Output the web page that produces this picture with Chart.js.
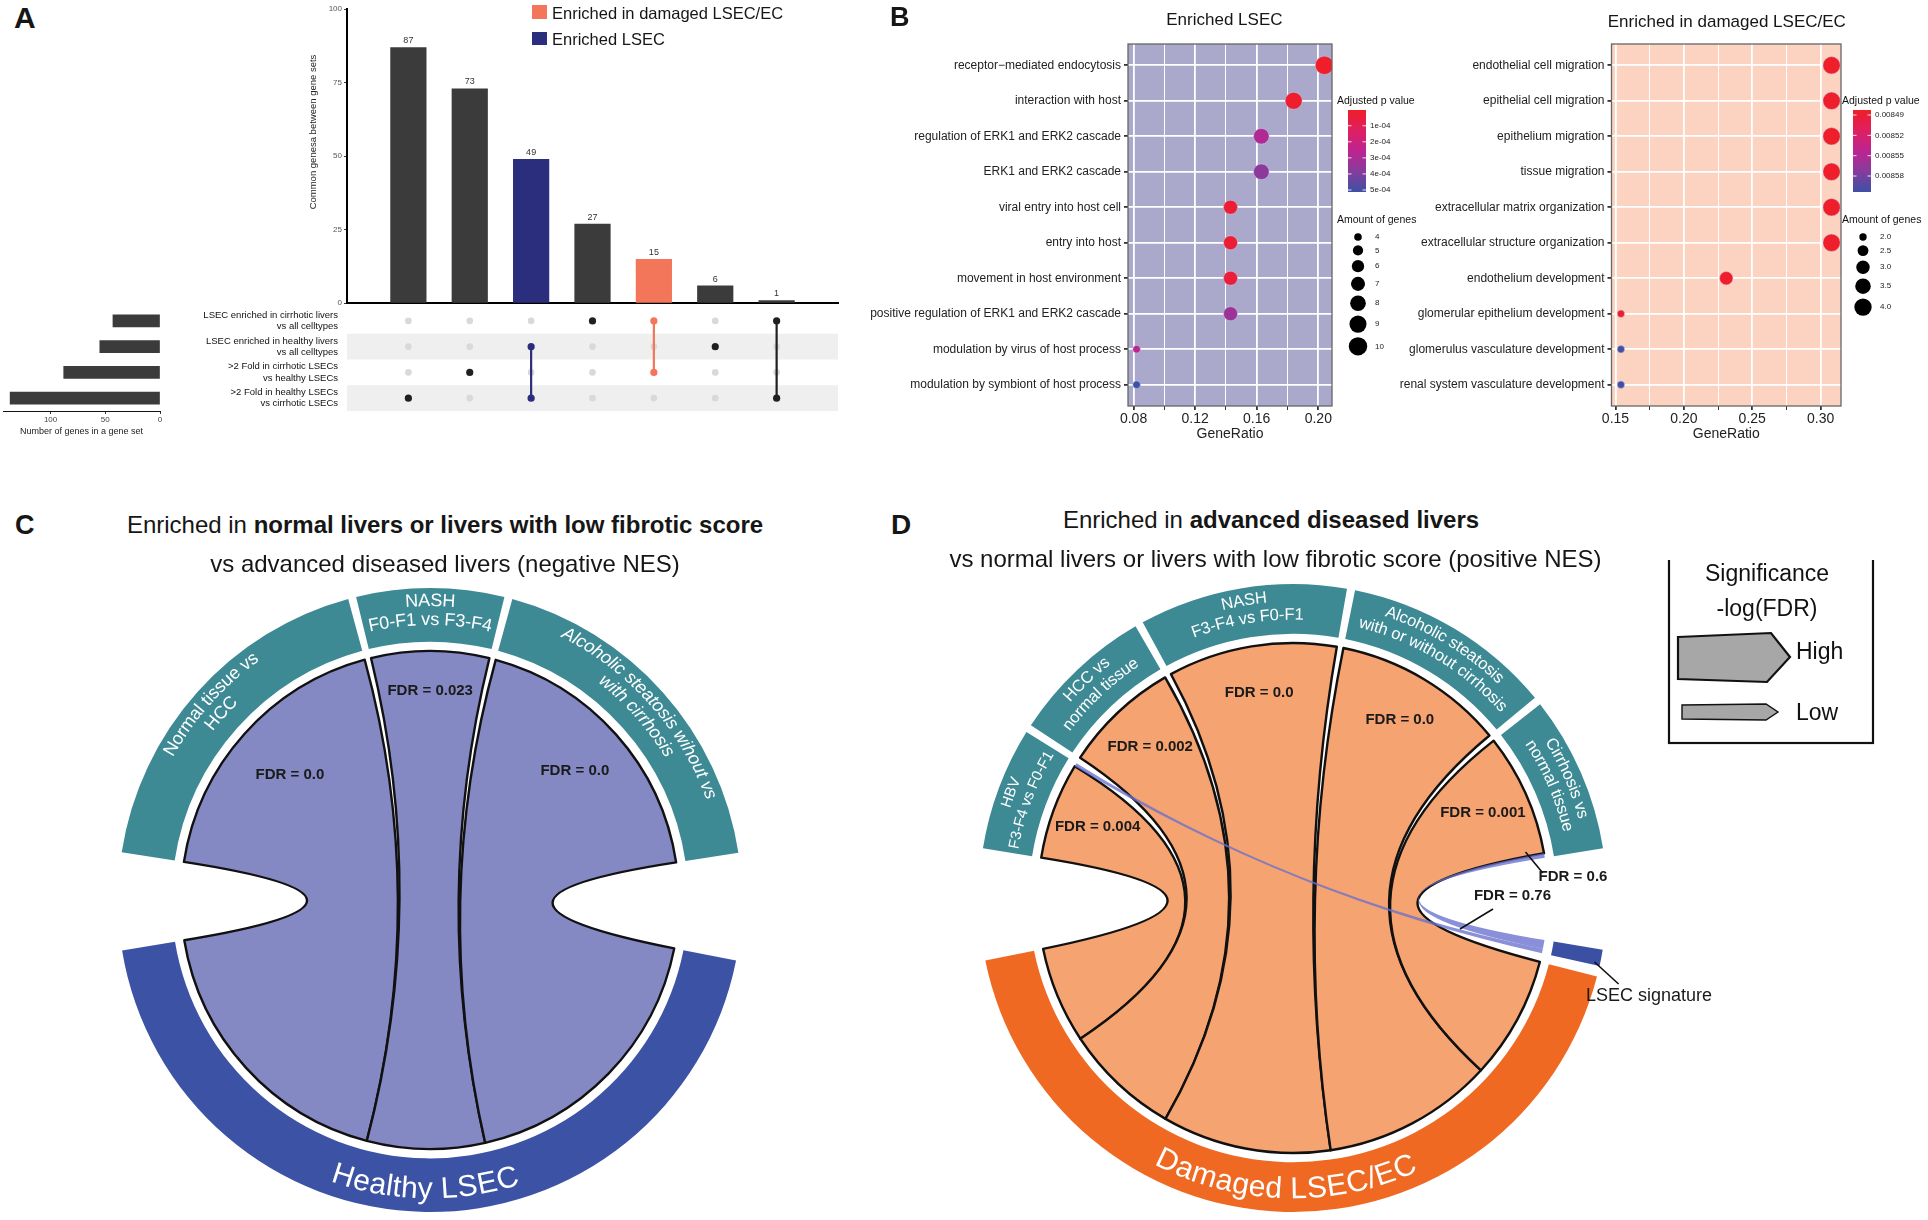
<!DOCTYPE html>
<html>
<head>
<meta charset="utf-8">
<script src="https://cdn.jsdelivr.net/npm/chart.js@4.4.1/dist/chart.umd.min.js"></script>
<style>
  body { margin: 0; background: #fff; }
  #page { position: relative; width: 1928px; height: 1220px; overflow: hidden; background: #fff;
          font-family: 'Liberation Sans', Arial, sans-serif; color: #161616; }
  #page canvas { position: absolute; }
  .txt { position: absolute; white-space: nowrap; line-height: 1; }
</style>
</head>
<body>
<div id="page"></div>
<script>
/* ---------------- data: panel A (UpSet) ---------------- */
const upsetCounts = [87, 73, 49, 27, 15, 6, 1];
const upsetMembers = [[3], [2], [1, 3], [0], [0, 2], [1], [0, 3]];
const upsetGroup = ['', '', 'lsec', '', 'damaged', '', ''];
const setNames = [
  ['LSEC enriched in cirrhotic livers', 'vs all celltypes'],
  ['LSEC enriched in healthy livers', 'vs all celltypes'],
  ['>2 Fold in cirrhotic LSECs', 'vs healthy LSECs'],
  ['>2 Fold in healthy LSECs', 'vs cirrhotic LSECs']
];
const setSizes = [43, 55, 88, 137];
const upsetTicks = [0, 25, 50, 75, 100];
const setSizeTicks = [0, 50, 100];

/* ---------------- data: panel B (GO dot plots) ---------------- */
const lsecTerms = ['receptor\u2212mediated endocytosis', 'interaction with host', 'regulation of ERK1 and ERK2 cascade',
  'ERK1 and ERK2 cascade', 'viral entry into host cell', 'entry into host', 'movement in host environment',
  'positive regulation of ERK1 and ERK2 cascade', 'modulation by virus of host process', 'modulation by symbiont of host process'];
const lsecRatio = [0.204, 0.184, 0.163, 0.163, 0.143, 0.143, 0.143, 0.143, 0.082, 0.082];
const lsecCount = [10, 9, 8, 8, 7, 7, 7, 7, 4, 4];
const lsecPadj = [0.1e-4, 0.2e-4, 2.9e-4, 3.7e-4, 0.35e-4, 0.35e-4, 0.45e-4, 3.3e-4, 2.6e-4, 5.1e-4];
const lsecXTicks = [0.08, 0.10, 0.12, 0.14, 0.16, 0.18, 0.20];
const lsecXLabels = [0.08, 0.12, 0.16, 0.20];
const lsecPTicks = [1e-4, 2e-4, 3e-4, 4e-4, 5e-4];
const lsecPTickLabels = ['1e-04', '2e-04', '3e-04', '4e-04', '5e-04'];
const lsecSizeKeys = [4, 5, 6, 7, 8, 9, 10];

const dmgTerms = ['endothelial cell migration', 'epithelial cell migration', 'epithelium migration', 'tissue migration',
  'extracellular matrix organization', 'extracellular structure organization', 'endothelium development',
  'glomerular epithelium development', 'glomerulus vasculature development', 'renal system vasculature development'];
const dmgRatio = [0.308, 0.308, 0.308, 0.308, 0.308, 0.308, 0.231, 0.154, 0.154, 0.154];
const dmgCount = [4, 4, 4, 4, 4, 4, 3, 2, 2, 2];
const dmgPadj = [0.008485, 0.008485, 0.008485, 0.008485, 0.008485, 0.008485, 0.008485, 0.008486, 0.0086, 0.0086];
const dmgXTicks = [0.15, 0.175, 0.20, 0.225, 0.25, 0.275, 0.30];
const dmgXLabels = [0.15, 0.20, 0.25, 0.30];
const dmgPTicks = [0.00849, 0.00852, 0.00855, 0.00858];
const dmgPTickLabels = ['0.00849', '0.00852', '0.00855', '0.00858'];
const dmgSizeKeys = [2, 2.5, 3, 3.5, 4];
const dmgSizeLabels = ['2.0', '2.5', '3.0', '3.5', '4.0'];

/* ---------------- data: panel C / D (chord diagrams) ---------------- */
const cSources = [['Normal tissue vs', 'HCC'], ['NASH', 'F0-F1 vs F3-F4'], ['Alcoholic steatosis wihout vs', 'with cirrhosis']];
const cTarget = 'Healthy LSEC';
const cWidth = [66, 27.5, 66];
const cFdr = ['0.0', '0.023', '0.0'];

const dSources = [['HBV', 'F3-F4 vs F0-F1'], ['HCC vs', 'normal tissue'], ['NASH', 'F3-F4 vs F0-F1'],
  ['Alcoholic steatosis', 'with or without cirrhosis'], ['Cirrhosis vs', 'normal tissue']];
const dTarget = 'Damaged LSEC/EC';
const dToDamaged = [22, 26.5, 38.5, 39, 28];
const dToDamagedFdr = ['0.004', '0.002', '0.0', '0.0', '0.001'];
const dToSignatureFrom = [0, 4];
const dToSignatureSrc = [0.8, 1];
const dToSignatureTgt = [1, 2];
const dToSignatureFdr = ['0.76', '0.6'];

/* ---------------- helpers ---------------- */
const FONT = "'Liberation Sans', Arial, sans-serif";
Chart.defaults.font.family = FONT;
Chart.defaults.color = '#222';
const page = document.getElementById('page');

function canvas(left, top, w, h) {
  const c = document.createElement('canvas');
  c.width = w; c.height = h;
  Object.assign(c.style, { left: left + 'px', top: top + 'px', width: w + 'px', height: h + 'px' });
  page.appendChild(c);
  return c;
}
function txt(html, x, base, size, center, extra) {
  const d = document.createElement('div');
  d.className = 'txt';
  d.innerHTML = html;
  d.style.fontSize = size + 'px';
  d.style.left = x + 'px';
  d.style.top = (base - 0.8465 * size) + 'px';
  if (center) d.style.transform = 'translateX(-50%)';
  if (extra) Object.assign(d.style, extra);
  page.appendChild(d);
}
function box(x, y, w, h, color) {
  const d = document.createElement('div');
  Object.assign(d.style, { position: 'absolute', left: x + 'px', top: y + 'px', width: w + 'px', height: h + 'px', background: color });
  page.appendChild(d);
}
const noChrome = { legend: { display: false }, tooltip: { enabled: false } };

/* ---------------- panel A ---------------- */
const barFill = { '': '#3b3b3b', lsec: '#2b2e7d', damaged: '#f3765a' };
const dotFill = { '': '#202020', lsec: '#2b2e7d', damaged: '#f3765a' };

new Chart(canvas(280, 0, 570, 310), {
  type: 'bar',
  data: { datasets: [{
    data: upsetCounts.map((v, i) => ({ x: i + 1, y: v })),
    backgroundColor: upsetGroup.map(g => barFill[g]),
    borderWidth: 0, barPercentage: 0.59, categoryPercentage: 1
  }]},
  options: {
    responsive: false, animation: false, events: [],
    layout: { padding: { top: 9, right: 12, bottom: 6, left: 0 } },
    plugins: noChrome,
    scales: {
      x: { type: 'linear', min: 0, max: 8, offset: false,
           afterBuildTicks: s => { s.ticks = upsetCounts.map((_, i) => ({ value: i + 1 })); },
           ticks: { display: false }, grid: { display: false },
           border: { color: '#000', width: 2 }, afterFit: s => { s.height = 0; } },
      y: { min: 0, max: 100,
           afterBuildTicks: s => { s.ticks = upsetTicks.map(v => ({ value: v })); },
           ticks: { font: { size: 8 }, color: '#555', padding: 2 },
           grid: { drawOnChartArea: false, tickLength: 3, tickColor: '#333' },
           border: { color: '#000', width: 2 }, afterFit: s => { s.width = 67; } }
    }
  },
  plugins: [{
    id: 'upsetText',
    afterDatasetsDraw(chart) {
      const ctx = chart.ctx;
      ctx.save();
      ctx.font = '9px ' + FONT; ctx.fillStyle = '#333'; ctx.textAlign = 'center'; ctx.textBaseline = 'bottom';
      chart.getDatasetMeta(0).data.forEach((b, i) => ctx.fillText(upsetCounts[i], b.x, b.y - 2));
      ctx.translate(33, 132); ctx.rotate(-Math.PI / 2);
      ctx.textBaseline = 'middle'; ctx.font = '9.5px ' + FONT; ctx.fillStyle = '#222';
      ctx.fillText('Common genesa between gene sets', 0, 0);
      ctx.restore();
    }
  }]
});

// intersection matrix
const grayDots = [], memberDots = [], memberCols = [], linkSets = [];
upsetMembers.forEach((m, i) => {
  setNames.forEach((_, r) => {
    if (m.includes(r)) { memberDots.push({ x: i + 1, y: r + 1 }); memberCols.push(dotFill[upsetGroup[i]]); }
    else grayDots.push({ x: i + 1, y: r + 1 });
  });
  if (m.length > 1) linkSets.push({
    type: 'line', order: 2, data: [{ x: i + 1, y: Math.min(...m) + 1 }, { x: i + 1, y: Math.max(...m) + 1 }],
    borderColor: dotFill[upsetGroup[i]], borderWidth: 2.2, pointRadius: 0
  });
});
new Chart(canvas(150, 290, 700, 139), {
  type: 'scatter',
  data: { datasets: [
    { order: 1, data: memberDots, pointRadius: 3.6, pointBackgroundColor: memberCols, pointBorderWidth: 0 },
    ...linkSets,
    { order: 3, data: grayDots, pointRadius: 3.3, pointBackgroundColor: '#d9d9d9', pointBorderWidth: 0 }
  ]},
  options: {
    responsive: false, animation: false, events: [],
    layout: { padding: { top: 18, right: 12, bottom: 18, left: 0 } },
    plugins: noChrome,
    scales: {
      x: { type: 'linear', min: 0, max: 8, display: false },
      y: { type: 'linear', min: 0.5, max: 4.5, reverse: true,
           afterBuildTicks: s => { s.ticks = setNames.map((_, r) => ({ value: r + 1 })); },
           ticks: { font: { size: 9.5, lineHeight: 1.2 }, color: '#111', padding: 1, callback: v => setNames[v - 1] },
           grid: { display: false }, border: { display: false }, afterFit: s => { s.width = 197; } }
    }
  },
  plugins: [{
    id: 'bands',
    beforeDatasetsDraw(chart) {
      const ctx = chart.ctx, y = chart.scales.y, a = chart.chartArea;
      ctx.save(); ctx.fillStyle = '#efefef';
      setNames.forEach((_, r) => {
        if (r % 2 === 1) {
          const t = y.getPixelForValue(r + 0.5), b = y.getPixelForValue(r + 1.5);
          ctx.fillRect(a.left, t, a.width, b - t);
        }
      });
      ctx.restore();
    }
  }]
});

// set sizes
new Chart(canvas(0, 290, 175, 150), {
  type: 'bar',
  data: { datasets: [{ data: setSizes.map((v, r) => ({ x: v, y: r + 1 })), backgroundColor: '#3b3b3b', barThickness: 12 }] },
  options: {
    indexAxis: 'y', responsive: false, animation: false, events: [],
    layout: { padding: { top: 18, right: 15, bottom: 0, left: 3 } },
    plugins: noChrome,
    scales: {
      y: { type: 'linear', min: 0.5, max: 4.5, reverse: true, display: false, offset: false,
           afterBuildTicks: s => { s.ticks = setSizes.map((_, r) => ({ value: r + 1 })); } },
      x: { type: 'linear', min: 0, max: 143.5, reverse: true,
           afterBuildTicks: s => { s.ticks = setSizeTicks.map(v => ({ value: v })); },
           ticks: { font: { size: 8 }, color: '#444', padding: 1 },
           grid: { drawOnChartArea: false, tickLength: 3, tickColor: '#333' },
           border: { color: '#111', width: 1 },
           title: { display: true, text: 'Number of genes in a gene set', font: { size: 9 }, color: '#222', padding: { top: 0, bottom: 3 } },
           afterFit: s => { s.height = 29; } }
    }
  }
});

/* ---------------- panel B ---------------- */
const pRamp = ['#f01e26', '#df1f61', '#bd2490', '#853c9d', '#3d50a5'];
function hexRgb(h) { return [1, 3, 5].map(i => parseInt(h.substr(i, 2), 16)); }
function rampColor(t) {
  t = Math.max(0, Math.min(1, t));
  const k = t * (pRamp.length - 1), i = Math.min(Math.floor(k), pRamp.length - 2), f = k - i;
  const a = hexRgb(pRamp[i]), b = hexRgb(pRamp[i + 1]);
  return 'rgb(' + a.map((v, j) => Math.round(v + (b[j] - v) * f)).join(',') + ')';
}
function sizeScale(nMin, nMax, rMin, rMax) {
  return n => Math.sqrt(rMin * rMin + (n - nMin) / (nMax - nMin) * (rMax * rMax - rMin * rMin));
}

function dotPlot(cv, o) {
  const radius = sizeScale(o.nMin, o.nMax, o.rMin, o.rMax);
  const color = p => rampColor((p - o.pMin) / (o.pMax - o.pMin));
  return new Chart(cv, {
    type: 'bubble',
    data: { datasets: [{
      data: o.terms.map((t, i) => ({ x: o.ratio[i], y: i, r: radius(o.count[i]) })),
      backgroundColor: o.padj.map(color),
      borderColor: 'rgba(200,215,240,0.6)', borderWidth: 0.8
    }]},
    options: {
      responsive: false, animation: false, events: [],
      layout: { padding: { top: 14, right: o.padRight, bottom: 0, left: 0 } },
      plugins: noChrome,
      scales: {
        x: { type: 'linear', min: o.xMin, max: o.xMax,
             afterBuildTicks: s => { s.ticks = o.xTicks.map(v => ({ value: v })); },
             ticks: { font: { size: 14 }, color: '#222', padding: 1, callback: v => o.xLabels.includes(v) ? v.toFixed(2) : '' },
             grid: { color: '#fff', lineWidth: c => o.xLabels.includes(c.tick && c.tick.value) ? 1.8 : 1, tickColor: '#333', tickLength: 4 },
             border: { display: false },
             title: { display: true, text: 'GeneRatio', font: { size: 14 }, color: '#222', padding: { top: 0, bottom: 2 } },
             afterFit: s => { s.height = 39; } },
        y: { type: 'linear', min: -0.6, max: o.terms.length - 0.4, reverse: true,
             afterBuildTicks: s => { s.ticks = o.terms.map((_, i) => ({ value: i })); },
             ticks: { font: { size: 12 }, color: '#222', padding: 3, callback: v => o.terms[v] },
             grid: { color: '#fff', lineWidth: 1.8, tickColor: '#333', tickLength: 4 },
             border: { display: false }, afterFit: s => { s.width = o.yWidth; } }
      }
    },
    plugins: [{
      id: 'dotPanel',
      beforeDraw(chart) {
        const a = chart.chartArea, ctx = chart.ctx;
        ctx.save(); ctx.fillStyle = o.bg; ctx.fillRect(a.left, a.top, a.width, a.height); ctx.restore();
      },
      afterDraw(chart) {
        const a = chart.chartArea, ctx = chart.ctx;
        ctx.save();
        ctx.strokeStyle = '#666'; ctx.lineWidth = 1.3; ctx.strokeRect(a.left, a.top, a.width, a.height);
        const x0 = a.right + o.legendDx, Y = v => v - o.top;
        ctx.textAlign = 'left'; ctx.textBaseline = 'middle'; ctx.fillStyle = '#111';
        ctx.font = '10.5px ' + FONT;
        ctx.fillText('Adjusted p value', x0, Y(101));
        const bx = x0 + 11, bw = 18, bt = Y(110), bb = Y(192);
        const g = ctx.createLinearGradient(0, bt, 0, bb);
        pRamp.forEach((c, i) => g.addColorStop(i / (pRamp.length - 1), c));
        ctx.fillStyle = g; ctx.fillRect(bx, bt, bw, bb - bt);
        ctx.font = '8px ' + FONT;
        o.pTicks.forEach((p, i) => {
          const y = bt + (p - o.pMin) / (o.pMax - o.pMin) * (bb - bt);
          ctx.strokeStyle = 'rgba(255,255,255,0.85)'; ctx.lineWidth = 1;
          ctx.beginPath(); ctx.moveTo(bx, y); ctx.lineTo(bx + 3.5, y); ctx.moveTo(bx + bw - 3.5, y); ctx.lineTo(bx + bw, y); ctx.stroke();
          ctx.fillStyle = '#222'; ctx.fillText(o.pTickLabels[i], bx + bw + 4, y);
        });
        ctx.font = '10.5px ' + FONT; ctx.fillStyle = '#111';
        ctx.fillText('Amount of genes', x0, Y(220));
        let y = Y(237), prev = null;
        o.sizeKeys.forEach((n, i) => {
          const r = radius(n);
          if (prev !== null) y += prev + r + 4.5;
          ctx.fillStyle = '#000'; ctx.beginPath(); ctx.arc(x0 + 21, y, r, 0, Math.PI * 2); ctx.fill();
          ctx.font = '8px ' + FONT; ctx.fillStyle = '#222'; ctx.fillText(o.sizeLabels[i], x0 + 38, y);
          prev = r;
        });
        ctx.restore();
      }
    }]
  });
}

dotPlot(canvas(870, 30, 555, 415), {
  terms: lsecTerms, ratio: lsecRatio, count: lsecCount, padj: lsecPadj,
  xMin: 0.0764, xMax: 0.2089, xTicks: lsecXTicks, xLabels: lsecXLabels,
  nMin: 4, nMax: 10, rMin: 3.8, rMax: 9.2, pMin: 0.02e-4, pMax: 5.125e-4,
  pTicks: lsecPTicks, pTickLabels: lsecPTickLabels, sizeKeys: lsecSizeKeys, sizeLabels: lsecSizeKeys.map(String),
  bg: '#aaa8cb', yWidth: 258, padRight: 93, legendDx: 5, top: 30
});
dotPlot(canvas(1395, 30, 533, 415), {
  terms: dmgTerms, ratio: dmgRatio, count: dmgCount, padj: dmgPadj,
  xMin: 0.1471, xMax: 0.3149, xTicks: dmgXTicks, xLabels: dmgXLabels,
  nMin: 2, nMax: 4, rMin: 3.7, rMax: 8.7, pMin: 0.0084826, pMax: 0.0086036,
  pTicks: dmgPTicks, pTickLabels: dmgPTickLabels, sizeKeys: dmgSizeKeys, sizeLabels: dmgSizeLabels,
  bg: '#fcd3c1', yWidth: 216.5, padRight: 87, legendDx: 1, top: 30
});

/* ---------------- panels C / D ---------------- */
function arcText(ctx, text, cx, cy, r, mid, outward) {
  const w = ctx.measureText(text).width;
  let a = outward ? mid - w / (2 * r) : mid + w / (2 * r);
  for (const ch of text) {
    const cw = ctx.measureText(ch).width;
    const ang = outward ? a + cw / (2 * r) : a - cw / (2 * r);
    ctx.save();
    ctx.translate(cx + r * Math.cos(ang), cy + r * Math.sin(ang));
    ctx.rotate(outward ? ang + Math.PI / 2 : ang - Math.PI / 2);
    ctx.fillText(ch, 0, 0);
    ctx.restore();
    a = outward ? a + cw / r : a - cw / r;
  }
}
function ribbon(ctx, cx, cy, r, s0, s1, t0, t1) {
  ctx.beginPath();
  ctx.arc(cx, cy, r, s0, s1);
  ctx.quadraticCurveTo(cx, cy, cx + r * Math.cos(t0), cy + r * Math.sin(t0));
  ctx.arc(cx, cy, r, t0, t1);
  ctx.quadraticCurveTo(cx, cy, cx + r * Math.cos(s0), cy + r * Math.sin(s0));
  ctx.closePath();
}

// o: segments [{value,color,lines,font,outward,radii}], gaps after each segment, links, look
function chordPanel(cv, o) {
  const data = [], colors = [], idx = [];
  o.segments.forEach((s, i) => {
    idx.push(data.length); data.push(s.value); colors.push(s.color);
    data.push(o.gaps[i]); colors.push('rgba(0,0,0,0)');
  });
  return new Chart(cv, {
    type: 'doughnut',
    data: { labels: data.map((_, i) => 'seg' + i), datasets: [{ data, backgroundColor: colors, borderWidth: 0 }] },
    options: {
      responsive: false, animation: false, events: [],
      rotation: o.rotation, radius: o.outerR, cutout: o.innerR,
      layout: { padding: o.padding },
      plugins: noChrome
    },
    plugins: [{
      id: 'chords',
      afterDatasetsDraw(chart) {
        const ctx = chart.ctx, arcs = chart.getDatasetMeta(0).data;
        const cx = arcs[0].x, cy = arcs[0].y;
        const cursor = {};
        const take = (seg, w) => {
          const a = arcs[idx[seg]], k = (a.endAngle - a.startAngle) / data[idx[seg]];
          const s = cursor[seg] === undefined ? a.startAngle : cursor[seg];
          cursor[seg] = s + w * k;
          return [s, s + w * k];
        };
        const links = o.links.map(l => Object.assign({}, l));
        links.forEach(l => { l.s = take(l.src, l.sw); });
        links.slice().reverse().forEach(l => { l.t = take(l.tgt, l.tw); });
        ctx.save();
        links.filter(l => !l.thin).forEach(l => {
          ribbon(ctx, cx, cy, o.chordR, l.s[0], l.s[1], l.t[0], l.t[1]);
          ctx.fillStyle = o.chordFill; ctx.fill();
          ctx.lineWidth = 2.4; ctx.strokeStyle = '#111'; ctx.lineJoin = 'round'; ctx.stroke();
        });
        links.filter(l => l.thin).forEach(l => {
          ribbon(ctx, cx, cy, o.chordR, l.s[0], l.s[1], l.t[0], l.t[1]);
          ctx.fillStyle = 'rgba(104,112,205,0.78)'; ctx.fill();
        });
        ctx.font = 'bold 15px ' + FONT; ctx.fillStyle = '#1a1a1a'; ctx.textAlign = 'center'; ctx.textBaseline = 'middle';
        links.filter(l => !l.thin).forEach((l, i) => {
          const a = (l.s[0] + l.s[1]) / 2, r = o.labelR[i];
          ctx.fillText('FDR = ' + l.fdr, cx + r * Math.cos(a), cy + r * Math.sin(a));
        });
        ctx.fillStyle = '#fff';
        o.segments.forEach((s, i) => {
          if (!s.lines) return;
          const a = arcs[idx[i]], mid = (a.startAngle + a.endAngle) / 2;
          ctx.font = s.font;
          s.lines.forEach((line, j) => arcText(ctx, line, cx, cy, s.radii[j], mid, s.outward));
        });
        ctx.restore();
        if (o.extra) o.extra(ctx, cx, cy);
      }
    }]
  });
}

const TEAL = '#3d8a95';
// C
chordPanel(canvas(0, 560, 860, 660), {
  rotation: 278.8, padding: { top: 20, left: 0, right: 0, bottom: 0 }, outerR: 312, innerR: 265,
  segments: [
    ...cSources.map((lines, i) => ({ value: cWidth[i], color: TEAL, lines, outward: true, radii: [299, 280],
      font: (i === 2 ? 'italic ' : '') + '18px ' + FONT })),
    { value: cWidth.reduce((a, b) => a + b, 0), color: '#3c52a5', lines: [cTarget], outward: false, radii: [290], font: '30px ' + FONT }
  ],
  gaps: [1.5, 1.5, 19.9, 18.1],
  links: cSources.map((_, i) => ({ src: i, tgt: cSources.length, sw: cWidth[i], tw: cWidth[i], fdr: cFdr[i] })),
  chordR: 249, chordFill: '#8489c4', labelR: [188, 209, 194]
});

// D
const dLinks = [];
dSources.forEach((_, i) => {
  dLinks.push({ src: i, tgt: dSources.length + 1, sw: dToDamaged[i], tw: dToDamaged[i], fdr: dToDamagedFdr[i] });
  const k = dToSignatureFrom.indexOf(i);
  if (k >= 0) dLinks.push({ src: i, tgt: dSources.length, sw: dToSignatureSrc[k], tw: dToSignatureTgt[k], fdr: dToSignatureFdr[k], thin: true });
});
const dSrcTotals = dSources.map((_, i) => dLinks.filter(l => l.src === i).reduce((a, l) => a + l.sw, 0));
const DX = 860, DY = 560;
chordPanel(canvas(DX, DY, 1068, 660), {
  rotation: 279.1, padding: { top: 16, left: 0, right: 202, bottom: 0 }, outerR: 314, innerR: 271,
  segments: [
    ...dSources.map((lines, i) => ({ value: dSrcTotals[i], color: TEAL, lines, outward: true, radii: [301, 283],
      font: (i === 0 ? '15px ' : '16.5px ') + FONT })),
    { value: dToSignatureTgt.reduce((a, b) => a + b, 0), color: '#3b4fa3' },
    { value: dToDamaged.reduce((a, b) => a + b, 0), color: '#f06922', lines: [dTarget], outward: false, radii: [292], font: '30px ' + FONT }
  ],
  gaps: [1.5, 1.5, 1.5, 1.5, 18.6, 2, 20.6],
  links: dLinks,
  chordR: 255, chordFill: '#f5a370', labelR: [208, 208, 208, 208, 208],
  extra(ctx) {
    const P = (x, y) => [x - DX, y - DY];
    ctx.save();
    ctx.strokeStyle = '#111'; ctx.lineWidth = 1.6;
    const lead = (a, b) => { ctx.beginPath(); ctx.moveTo(...P(...a)); ctx.lineTo(...P(...b)); ctx.stroke(); };
    lead([1460, 929], [1493, 909]);
    lead([1525.5, 852], [1542.8, 873]);
    lead([1594.5, 962], [1618.6, 984]);
    ctx.fillStyle = '#1a1a1a'; ctx.textBaseline = 'middle'; ctx.textAlign = 'center';
    ctx.font = 'bold 15px ' + FONT;
    ctx.fillText('FDR = ' + dToSignatureFdr[0], ...P(1512.5, 896));
    ctx.fillText('FDR = ' + dToSignatureFdr[1], ...P(1573, 877));
    ctx.textAlign = 'left'; ctx.font = '18px ' + FONT;
    ctx.fillText('LSEC signature', ...P(1586, 996));
    // significance legend
    ctx.lineWidth = 2.2; ctx.strokeRect(...P(1669, 552), 204, 191);
    ctx.textAlign = 'center'; ctx.font = '23px ' + FONT; ctx.fillStyle = '#111';
    ctx.fillText('Significance', ...P(1767, 575));
    ctx.fillText('-log(FDR)', ...P(1767, 610));
    ctx.textAlign = 'left';
    ctx.fillText('High', ...P(1796, 653));
    ctx.fillText('Low', ...P(1796, 714));
    const poly = (pts, lw) => {
      ctx.beginPath(); pts.forEach((p, i) => ctx[i ? 'lineTo' : 'moveTo'](...P(...p))); ctx.closePath();
      ctx.fillStyle = '#a7a7a7'; ctx.fill(); ctx.lineWidth = lw; ctx.strokeStyle = '#111'; ctx.stroke();
    };
    poly([[1678, 637], [1771, 633], [1790, 657], [1767, 682], [1678, 679]], 2.2);
    poly([[1682, 705], [1766, 704], [1778, 712], [1766, 720], [1682, 719]], 1.4);
    ctx.restore();
  }
});

/* ---------------- titles & panel letters ---------------- */
txt('A', 14, 28.3, 30, false, { fontWeight: 'bold' });
txt('B', 890, 26.7, 27, false, { fontWeight: 'bold' });
txt('C', 15, 534.6, 27, false, { fontWeight: 'bold' });
txt('D', 891, 534.4, 28, false, { fontWeight: 'bold' });

box(532, 5, 15, 14, barFill.damaged);
box(532, 32, 15, 13, barFill.lsec);
txt('Enriched in damaged LSEC/EC', 552, 18.5, 16.5);
txt('Enriched LSEC', 552, 44.5, 16.5);

txt('Enriched LSEC', 1224.4, 25, 17, true);
txt('Enriched in damaged LSEC/EC', 1726.8, 27, 17, true);

txt('Enriched in <b>normal livers or livers with low fibrotic score</b>', 445, 533, 24, true);
txt('vs advanced diseased livers (negative NES)', 445, 572, 24, true);
txt('Enriched in <b>advanced diseased livers</b>', 1271, 528, 24, true);
txt('vs normal livers or livers with low fibrotic score (positive NES)', 1275.5, 567, 24, true);
</script>
</body>
</html>
